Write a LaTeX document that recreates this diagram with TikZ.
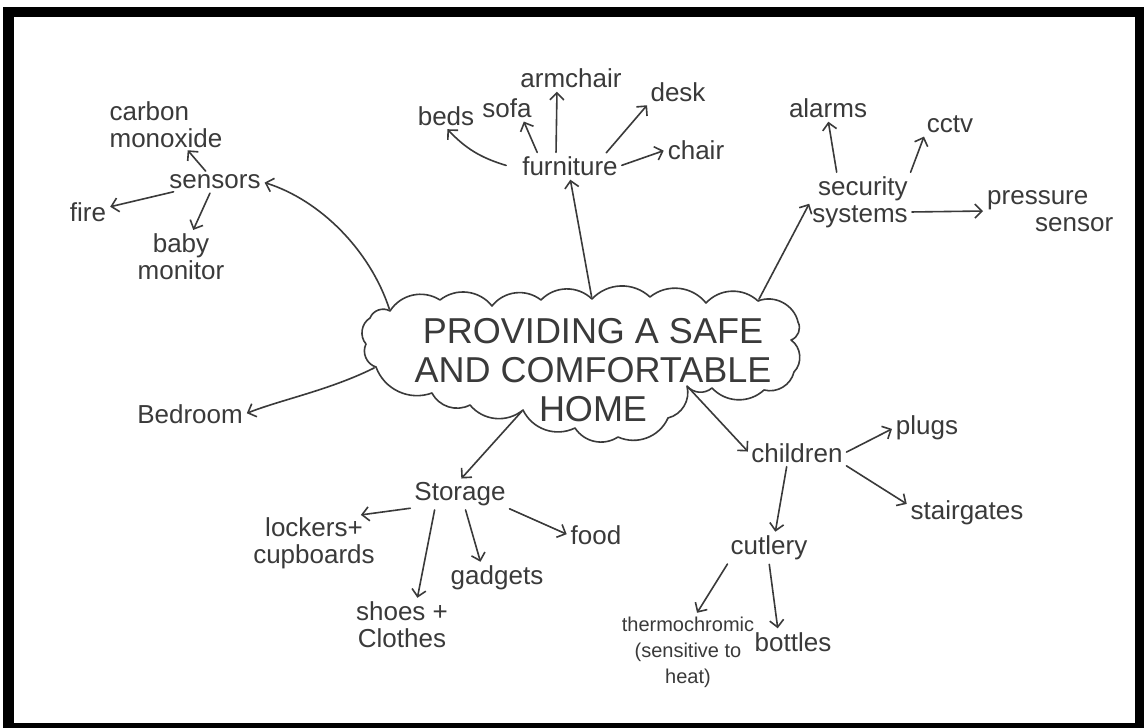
\documentclass[tikz,border=0pt]{standalone}
\usepackage{fontspec}
\setmainfont{Liberation Sans}
\usetikzlibrary{arrows.meta}
\definecolor{ink}{HTML}{3A3A3A}
\begin{document}
\begin{tikzpicture}[x=1pt,y=-1pt,
  lab/.style={font=\fontsize{26}{27}\selectfont, text=ink, inner sep=2pt, align=center},
  small/.style={font=\fontsize{20}{26}\selectfont, text=ink, inner sep=2pt, align=center},
  big/.style={font=\fontsize{36}{39}\selectfont, text=ink, align=center, inner sep=0pt},
  arr/.style={draw=ink, line width=1.6pt, line cap=round, line join=round,
    -{Straight Barb[length=7pt,width=14pt]}, shorten >=2pt, shorten <=2pt},
  cloudline/.style={draw=ink, line width=1.6pt, line join=round}]
\useasboundingbox (0,0) rectangle (1144,728);
\fill[white] (0,0) rectangle (1144,728);
\fill[black] (3,7) rectangle (1144,728);
\fill[white] (14,17) rectangle (1135,723);

% cloud
\draw[cloudline] (366,344) to[bend left=50] (370,318) to[bend left=50] (390,311)
  to[bend left=45] (440,300) to[bend left=45] (492,306) to[bend left=45] (541,300)
  to[bend left=45] (592,299) to[bend left=45] (650,297) to[bend left=45] (706,303)
  to[bend left=45] (758,301) to[bend left=50] (798,322) to[bend left=50] (791,340)
  to[bend left=50] (794,372) to[bend left=45] (764,390) to[bend left=45] (712,388)
  to[bend left=45] (687,386) to[bend left=45] (668,418) to[bend left=45] (618,437)
  to[bend left=45] (575,428) to[bend left=45] (523,410) to[bend left=45] (470,405)
  to[bend left=45] (432,393) to[bend left=45] (376,367) to[bend left=50] (366,344) -- cycle;
\node[big] (main) at (593,370) {PROVIDING A SAFE\\AND COMFORTABLE\\HOME};

\coordinate (c-sens) at (390,311);
\coordinate (c-furn) at (592,299);
\coordinate (c-sec) at (758,301);
\coordinate (c-bed) at (376,367);
\coordinate (c-stor) at (523,410);
\coordinate (c-child) at (687,386);

% sensors
\node[lab] (sens) at (215,182) {sensors};
\node[lab, align=left] (co) at (166,125) {carbon\\monoxide};
\node[lab] (fire) at (88,212) {fire};
\node[lab] (baby) at (181,257) {baby\\monitor};
\draw[arr, shorten >=0pt] (sens) -- (co);
\draw[arr] (sens) -- (fire);
\draw[arr] (sens) -- (baby);
\draw[arr] (c-sens) .. controls (370,250) and (320,200) .. (sens.east);

% furniture
\node[lab] (furn) at (570,166) {furniture};
\node[lab] (beds) at (446,116) {beds};
\node[lab] (sofa) at (507,108) {sofa};
\node[lab] (arm) at (571,78) {armchair};
\node[lab] (desk) at (678,92) {desk};
\node[lab] (chair) at (696,150) {chair};
\draw[arr] ([xshift=-12pt]furn.west) to[bend left=15] (beds.south);
\draw[arr] ([xshift=-32pt]furn.north) -- ([xshift=16pt]sofa.south);
\draw[arr] ([xshift=-14pt]furn.north) -- ([xshift=-14pt]arm.south);
\draw[arr] ([xshift=35pt]furn.north) -- (desk.south west);
\draw[arr] (furn.east) -- (chair.west);
\draw[arr] (c-furn) -- (furn.south);

% security
\node[lab, align=right] (sec) at (860,202) {security\\systems};
\node[lab] (alarms) at (828,108) {alarms};
\node[lab] (cctv) at (950,124) {cctv};
\node[lab, align=left, anchor=west] (press) at (985,211) {pressure\\\hspace*{48pt}sensor};
\draw[arr] ([xshift=-23pt]sec.north) -- (alarms.south);
\draw[arr] (sec.north east) -- (cctv.south west);
\draw[arr] ([yshift=-10pt]sec.east) -- (press.west);
\draw[arr] (c-sec) -- (sec.west);

% bedroom
\node[lab] (bed) at (190,414) {Bedroom};
\draw[arr] (c-bed) .. controls (330,390) and (280,400) .. (bed.east);

% storage
\node[lab] (stor) at (460,494) {Storage};
\node[lab] (lock) at (314,543) {lockers+\\cupboards};
\node[lab] (shoes) at (402,625) {shoes +\\Clothes};
\node[lab] (gadg) at (497,578) {gadgets};
\node[lab] (food) at (596,535) {food};
\draw[arr] (c-stor) -- (stor.north);
\draw[arr] (stor.south west) -- ([xshift=-18pt]lock.north east);
\draw[arr] ([xshift=-25pt]stor.south) -- ([xshift=15pt]shoes.north);
\draw[arr] ([xshift=5pt]stor.south) -- ([xshift=-16pt]gadg.north);
\draw[arr] (stor.south east) -- (food.west);

% children
\node[lab] (child) at (797,453) {children};
\node[lab] (plugs) at (927,428) {plugs};
\node[lab] (stair) at (967,513) {stairgates};
\node[lab] (cut) at (769,548) {cutlery};
\node[small] (therm) at (688,652) {thermochromic\\(sensitive to\\heat)};
\node[lab] (bott) at (793,642) {bottles};
\draw[arr] (c-child) -- (child.west);
\draw[arr] (child.east) -- (plugs.west);
\draw[arr] (child.south east) -- ([yshift=8pt]stair.west);
\draw[arr] ([xshift=-10pt]child.south) -- ([xshift=6pt]cut.north);
\draw[arr] (cut.south west) -- ([xshift=8pt]therm.north);
\draw[arr] (cut.south) -- ([xshift=-15pt]bott.north);
\end{tikzpicture}
\end{document}
